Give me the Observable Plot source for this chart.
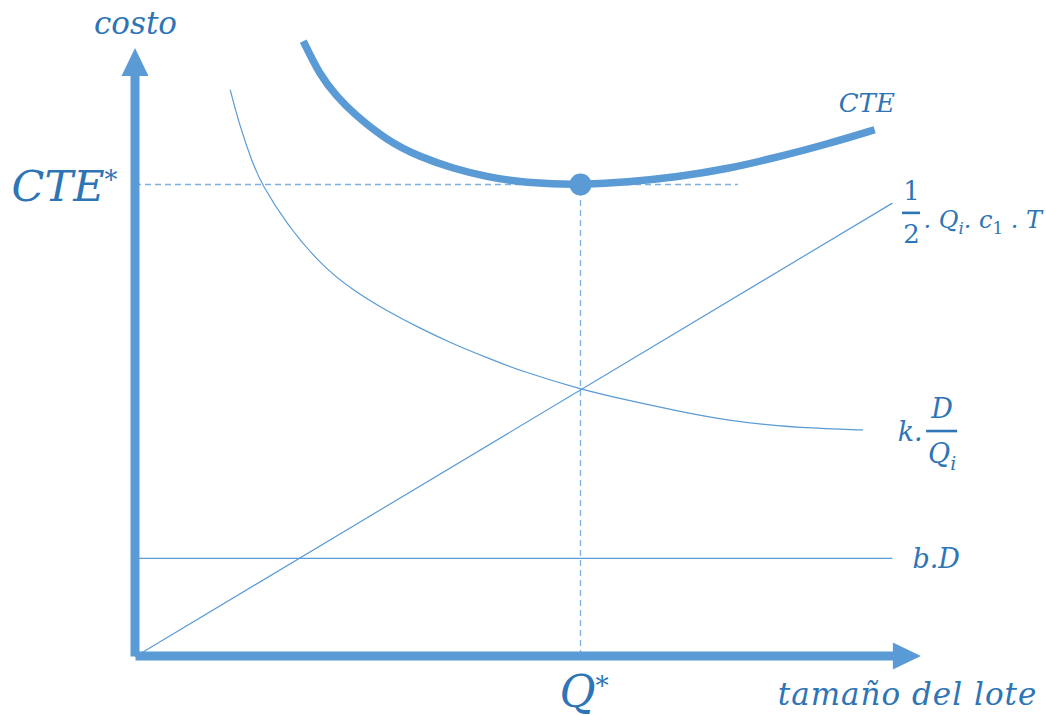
<!DOCTYPE html>
<html><head><meta charset="utf-8">
<script src="https://cdn.jsdelivr.net/npm/d3@7"></script>
<script src="https://cdn.jsdelivr.net/npm/@observablehq/plot@0.6"></script>
<style>html,body{margin:0;padding:0;background:#fff;}</style>
</head><body><div id="chart"></div>
<script>
// ---- values (arbitrary units: Q* = 10, CTE* = 10) ----
const qStar = 10;
const cteStar = 10;
const xAxisEnd = 17.66;
const yAxisEnd = 12.88;
const guideEndX = 13.55;

const cteX = [3.77, 4.14, 4.53, 4.89, 5.65, 6.40, 7.14, 7.90, 8.65, 9.39, 10, 11.05, 12.18, 13.31, 14.43, 15.56, 16.61];
const cteY = [13.04, 12.32, 11.86, 11.51, 10.93, 10.58, 10.34, 10.16, 10.05, 10.01, 10.0, 10.05, 10.16, 10.33, 10.58, 10.86, 11.16];

const orderX = [2.13, 2.34, 2.63, 2.84, 3.39, 4.14, 4.89, 5.65, 6.40, 7.14, 7.90, 8.65, 10, 11.05, 12.18, 13.31, 14.43, 15.56, 16.34];
const orderY = [12.0, 11.25, 10.45, 10.0, 9.17, 8.32, 7.75, 7.32, 6.95, 6.62, 6.33, 6.05, 5.66, 5.43, 5.20, 5.00, 4.88, 4.82, 4.80];

const holdX = [0, 17];
const holdY = [0, 9.6];

const purchX = [0, 17];
const purchY = [2.08, 2.08];

const yTitle = ["costo"];
const xTitle = ["tamaño del lote"];
const cteStarLabel = ["CTE*"];
const qStarLabel = ["Q*"];
const cteLabel = ["CTE"];
const holdNum = ["1"], holdDen = ["2"], holdRest = [". Qi. c1 . T"];
const orderPre = ["k."], orderNum = ["D"], orderDen = ["Qi"];
const purchLabel = ["b.D"];

// ---- styling ----
const lineColor = "#5B9BD5";
const guideColor = "#7FB0DE";
const textColor = "#2E75B6";
const fontFamily = "'DejaVu Serif', serif";

const pts = (xs, ys) => xs.map((x, i) => ({x, y: ys[i]}));
const last = a => a[a.length - 1];

const txt = (data, opts) => Plot.text(data, {
  text: d => d, fill: textColor, fontFamily, fontStyle: "italic",
  lineAnchor: "bottom", ...opts
});

function decorations(index, scales) {
  const {x, y} = scales;
  const g = d3.create("svg:g");
  const x0 = x(0), y0 = y(0), xe = x(xAxisEnd), ye = y(yAxisEnd);
  const hw = 4.5, head = 28, hh = 13.5;
  // vertical axis shaft + head
  g.append("rect").attr("x", x0 - hw).attr("y", ye + head - 2).attr("width", 2 * hw).attr("height", y0 + 0.5 - (ye + head - 2)).attr("fill", lineColor);
  g.append("path").attr("d", `M${x0},${ye}L${x0 - hh},${ye + head}L${x0 + hh},${ye + head}Z`).attr("fill", lineColor);
  // horizontal axis shaft + head
  g.append("rect").attr("x", x0 + 0.5).attr("y", y0 - hw).attr("width", xe - head + 2 - x0 - 0.5).attr("height", 2 * hw).attr("fill", lineColor);
  g.append("path").attr("d", `M${xe},${y0}L${xe - head},${y0 - hh}L${xe - head},${y0 + hh}Z`).attr("fill", lineColor);
  // fraction bars
  const bar = (px, py, w) => g.append("rect").attr("x", px).attr("y", py - 1.3).attr("width", w).attr("height", 2.6).attr("fill", textColor);
  bar(x(last(holdX)) + 10.5, y(last(holdY)) + 10, 18);
  bar(x(last(orderX)) + 64, y(last(orderY)) + 1.6, 31);
  return g.node();
}

const chart = Plot.plot({
  width: 1046,
  height: 716,
  margin: 0,
  style: {background: "#fff", overflow: "visible"},
  x: {domain: [0, 10], range: [135, 580], axis: null},
  y: {domain: [0, 10], range: [656, 184], axis: null},
  marks: [
    // guides
    Plot.ruleY([cteStar], {x1: 0, x2: guideEndX, stroke: guideColor, strokeWidth: 1.3, strokeDasharray: "6,4"}),
    Plot.ruleX([qStar], {y1: 0, y2: cteStar, stroke: guideColor, strokeWidth: 1.3, strokeDasharray: "6,4"}),
    // axes with arrow heads, fraction bars
    decorations,
    // cost components
    Plot.line(pts(purchX, purchY), {x: "x", y: "y", stroke: lineColor, strokeWidth: 1.2}),
    Plot.line(pts(holdX, holdY), {x: "x", y: "y", stroke: lineColor, strokeWidth: 1.2}),
    Plot.line(pts(orderX, orderY), {x: "x", y: "y", stroke: lineColor, strokeWidth: 1.2, curve: "basis"}),
    // total cost
    Plot.line(pts(cteX, cteY), {x: "x", y: "y", stroke: lineColor, strokeWidth: 7.5, curve: "basis", strokeLinecap: "butt"}),
    Plot.dot([{x: qStar, y: cteStar}], {x: "x", y: "y", r: 11, fill: lineColor, stroke: "none"}),
    // labels
    txt(yTitle, {x: 0, y: yAxisEnd, dy: -15, textAnchor: "middle", fontSize: 31}),
    txt(xTitle, {x: xAxisEnd, y: 0, dx: 116, dy: 48, textAnchor: "end", fontSize: 31}),
    txt(cteStarLabel, {x: 0, y: cteStar, dx: -18, dy: 16, textAnchor: "end", fontSize: 43}),
    txt(qStarLabel, {x: qStar, y: 0, dx: -21, dy: 50, textAnchor: "start", fontSize: 44}),
    txt(cteLabel, {x: last(cteX), y: last(cteY), dx: -36, dy: -18, textAnchor: "start", fontSize: 26}),
    txt(holdNum, {x: last(holdX), y: last(holdY), dx: 19.5, dy: -3, textAnchor: "middle", fontSize: 26, fontStyle: "normal"}),
    txt(holdDen, {x: last(holdX), y: last(holdY), dx: 19.5, dy: 40, textAnchor: "middle", fontSize: 26, fontStyle: "normal"}),
    txt(holdRest, {x: last(holdX), y: last(holdY), dx: 31.5, dy: 25, textAnchor: "start", fontSize: 24}),
    txt(orderPre, {x: last(orderX), y: last(orderY), dx: 35, dy: 10.6, textAnchor: "start", fontSize: 27}),
    txt(orderNum, {x: last(orderX), y: last(orderY), dx: 79.5, dy: -12, textAnchor: "middle", fontSize: 27}),
    txt(orderDen, {x: last(orderX), y: last(orderY), dx: 79.5, dy: 33, textAnchor: "middle", fontSize: 27}),
    txt(purchLabel, {x: last(purchX), y: last(purchY), dx: 20.5, dy: 10, textAnchor: "start", fontSize: 27})
  ]
});

// subscripts / superscripts as tspans: [text, pieces, base font size]
const rich = new Map([
  ["Qi", [27, [["Q"], ["i", "sub"]]]],
  [". Qi. c1 . T", [24, [[". Q"], ["i", "sub"], [". c"], ["1", "sub", "normal"], [" . T"]]]],
  ["CTE*", [43, [["CTE"], ["*", "sup", "normal"]]]],
  ["Q*", [44, [["Q"], ["*", "sup", "normal"]]]]
]);
d3.select(chart).selectAll("text").each(function () {
  const spec = rich.get(this.textContent);
  if (!spec) return;
  const [fs, parts] = spec;
  const sel = d3.select(this);
  sel.text(null);
  let shift = 0;
  for (const [s, kind, style] of parts) {
    const t = sel.append("tspan").text(s);
    let target = 0;
    if (kind === "sub") { target = 0.25 * fs; t.attr("font-size", 0.7 * fs); }
    if (kind === "sup") { target = -0.27 * fs; t.attr("font-size", 0.6 * fs); }
    if (style) t.attr("font-style", style);
    if (target !== shift) { t.attr("dy", target - shift); shift = target; }
  }
});
d3.select(chart).selectAll("text").filter(function () { return this.textContent === "tamaño del lote"; }).attr("letter-spacing", 1);

document.getElementById("chart").appendChild(chart);
</script>
</body></html>
